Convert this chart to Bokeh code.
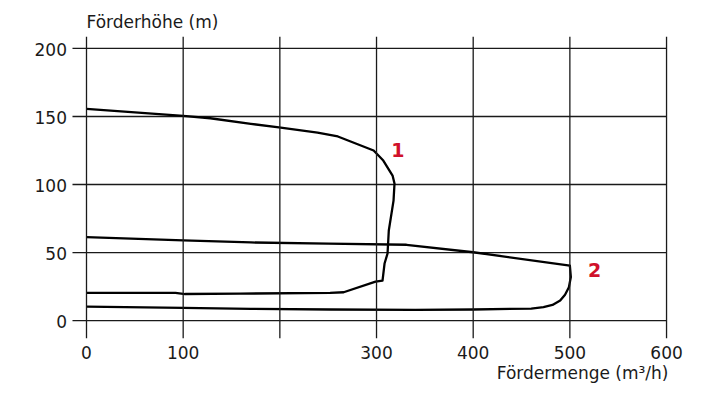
from bokeh.plotting import figure
from bokeh.models import FixedTicker, Span, Range1d, Title
from bokeh.core.properties import value
from bokeh.embed import file_html
from bokeh.resources import INLINE

# ---- data ----
x_grid = [0, 100, 200, 300, 400, 500, 600]
x_tick_labels = [0, 100, 300, 400, 500, 600]
y_ticks = [0, 50, 100, 150, 200]
y_tick_text = ["0", "50", "100", "150", "200"]

curve1_q = [0, 100, 128, 170, 199, 239, 260, 297, 307, 316.6, 318.6, 317.6,
            312.7, 311.4, 308.3, 306.2, 299, 266, 252, 159, 102, 92, 0]
curve1_h = [155.6, 150.5, 148.7, 144.6, 142, 138.2, 135.3, 125, 117.6, 106.6,
            100.7, 88.2, 66.2, 49.3, 41.9, 29.4, 28.6, 20.8, 20.3, 19.8, 19.5,
            20.4, 20.4]

curve2_q = [0, 100, 170, 250, 331, 400, 500, 501, 499, 495, 490, 482, 472.7,
            460, 400, 340, 252, 170, 100, 0]
curve2_h = [61.3, 59, 57.4, 56.5, 55.7, 50.2, 40.4, 32, 24.5, 19, 14.7, 11.5,
            9.8, 8.8, 8.1, 7.9, 8.1, 8.6, 9.3, 10.3]

curve_names = ["1", "2"]

FONT = "DejaVu Sans"
INK = "#1a1a1a"
RED = "#d0112b"

p = figure(width=696, height=400,
           x_range=Range1d(-60, 610.3), y_range=Range1d(-13.2, 208.8),
           output_backend="svg", toolbar_location=None, title=None,
           min_border_left=28, min_border_right=20,
           min_border_top=36, min_border_bottom=62)
p.outline_line_color = None
p.xgrid.visible = False
p.ygrid.visible = False
p.yaxis.visible = False

# x axis: labels only
xa = p.xaxis[0]
xa.ticker = FixedTicker(ticks=x_tick_labels)
xa.axis_line_color = None
xa.major_tick_line_color = None
xa.minor_tick_line_color = None
xa.major_tick_out = 0
xa.major_tick_in = 0
xa.major_label_text_font = FONT
xa.major_label_text_font_size = "17px"
xa.major_label_text_color = INK
xa.major_label_standoff = 7

# grid
for xv in x_grid:
    p.add_layout(Span(location=xv, dimension="height",
                      line_color=INK, line_width=1.3))
n = len(y_ticks)
p.segment(x0=[-14.5] * n, y0=y_ticks, x1=[x_grid[-1]] * n, y1=y_ticks,
          line_color=INK, line_width=1.3)

# y tick labels
p.text(x=[-20.2] * n, y=y_ticks, text=y_tick_text, y_offset=1,
       text_color=INK, text_font=value(FONT), text_font_size="17px",
       text_align="right", text_baseline="alphabetic")

# curves
p.line(curve1_q, curve1_h, line_color="black", line_width=2.3,
       line_join="round")
p.line(curve2_q, curve2_h, line_color="black", line_width=2.3,
       line_join="round")

# curve labels
p.text(x=[322, 525.5], y=[125.7, 36.8], text=curve_names,
       text_color=RED, text_font=value(FONT), text_font_style="bold",
       text_font_size="19px", text_align="center", text_baseline="middle")

# axis titles
p.add_layout(Title(text="Förderhöhe (m)", align="left", offset=58,
                   standoff=9, text_font=FONT, text_font_size="17px",
                   text_font_style="normal", text_color=INK), "above")
p.add_layout(Title(text="Fördermenge (m³/h)", align="right", offset=8,
                   standoff=-2, text_font=FONT, text_font_size="17px",
                   text_font_style="normal", text_color=INK), "below")

open("out.html", "w").write(file_html(p, INLINE))
